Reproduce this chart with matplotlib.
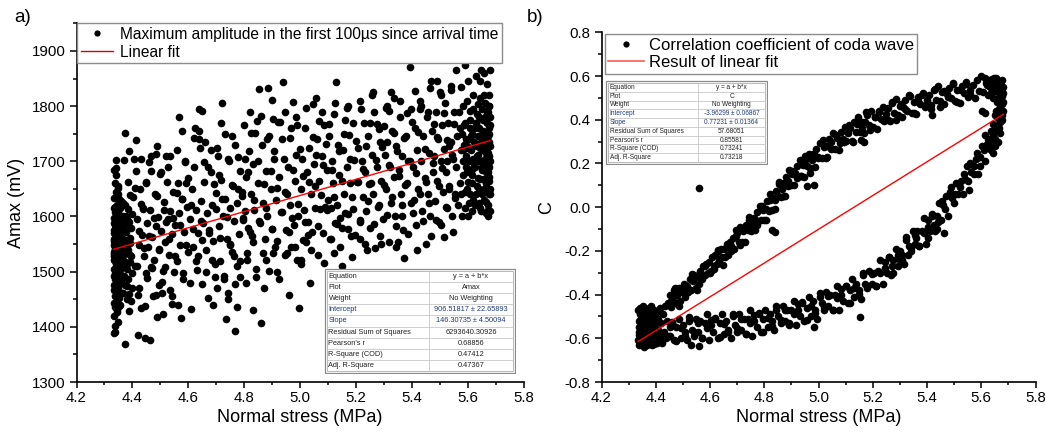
import numpy as np
import matplotlib.pyplot as plt
from matplotlib.lines import Line2D
from matplotlib.patches import Rectangle
from matplotlib.ticker import MultipleLocator

plt.rcParams['font.family'] = ['Liberation Sans', 'DejaVu Sans']

# ---- panel a): (normal stress MPa, Amax mV) ----
amax_low_col = [
    (4.335, 1588), (4.338, 1541), (4.341, 1502), (4.336, 1467), (4.344, 1620), (4.339, 1455), (4.347, 1573), (4.333, 1529), (4.342, 1491), (4.350, 1608),
    (4.337, 1436), (4.345, 1552), (4.334, 1598), (4.348, 1479), (4.340, 1517), (4.352, 1563), (4.336, 1419), (4.343, 1645), (4.355, 1534), (4.339, 1584),
    (4.346, 1448), (4.333, 1505), (4.358, 1597), (4.341, 1472), (4.349, 1526), (4.336, 1560), (4.353, 1489), (4.344, 1612), (4.338, 1401), (4.360, 1546),
    (4.335, 1634), (4.347, 1515), (4.342, 1578), (4.356, 1462), (4.334, 1493), (4.351, 1631), (4.339, 1540), (4.345, 1426), (4.362, 1571), (4.337, 1660),
    (4.348, 1500), (4.340, 1557), (4.357, 1538), (4.333, 1444), (4.346, 1592), (4.354, 1480), (4.338, 1521), (4.343, 1675), (4.365, 1510), (4.336, 1575),
    (4.350, 1459), (4.341, 1602), (4.359, 1628), (4.334, 1532), (4.347, 1409), (4.352, 1585), (4.339, 1468), (4.344, 1547), (4.363, 1555), (4.337, 1497),
    (4.349, 1640), (4.342, 1513), (4.356, 1440), (4.335, 1616), (4.346, 1566), (4.361, 1485), (4.338, 1390), (4.353, 1524), (4.343, 1688), (4.367, 1595),
    (4.336, 1548), (4.351, 1453), (4.340, 1581), (4.358, 1507), (4.334, 1475), (4.348, 1652), (4.364, 1542), (4.345, 1430), (4.339, 1609), (4.355, 1568),
    (4.370, 1520), (4.372, 1369), (4.368, 1461), (4.375, 1586), (4.371, 1703), (4.377, 1534), (4.369, 1493), (4.374, 1620), (4.380, 1451), (4.376, 1558),
    (4.373, 1751), (4.382, 1505), (4.378, 1572), (4.385, 1613), (4.379, 1474), (4.384, 1540), (4.388, 1428), (4.381, 1596), (4.386, 1663), (4.390, 1517),
    (4.383, 1487), (4.392, 1561), (4.387, 1719), (4.394, 1446), (4.389, 1590), (4.396, 1528), (4.391, 1639), (4.398, 1470), (4.393, 1552), (4.399, 1604),
    (4.336, 1685), (4.341, 1702), (4.335, 1388), (4.347, 1655), (4.333, 1570), (4.344, 1478), (4.340, 1525), (4.352, 1600), (4.338, 1545), (4.357, 1495),
    (4.334, 1556), (4.337, 1486), (4.340, 1594), (4.343, 1530), (4.346, 1610), (4.349, 1470), (4.352, 1542), (4.355, 1505), (4.358, 1580), (4.361, 1520),
    (4.364, 1462), (4.367, 1560), (4.335, 1522), (4.338, 1618), (4.341, 1445), (4.344, 1566), (4.347, 1489), (4.350, 1588), (4.353, 1438), (4.356, 1615),
    (4.359, 1550), (4.362, 1490), (4.365, 1625), (4.368, 1530), (4.371, 1577), (4.374, 1475), (4.377, 1600), (4.380, 1545), (4.383, 1515), (4.386, 1592),
    (4.389, 1460), (4.392, 1530), (4.395, 1580), (4.398, 1497), (4.336, 1535), (4.342, 1560), (4.348, 1542), (4.354, 1580), (4.360, 1512), (4.366, 1600),
]
amax_mid_low = [
    (4.405, 1705), (4.412, 1738), (4.430, 1704), (4.487, 1727), (4.520, 1709), (4.484, 1713), (4.560, 1720), (4.444, 1438), (4.487, 1418), (4.510, 1424),
    (4.534, 1467), (4.494, 1476), (4.420, 1385), (4.446, 1380), (4.462, 1376), (4.566, 1780), (4.577, 1755), (4.408, 1652), (4.415, 1596), (4.422, 1548),
    (4.418, 1510), (4.425, 1470), (4.431, 1623), (4.436, 1567), (4.441, 1529), (4.447, 1661), (4.452, 1588), (4.449, 1497), (4.457, 1545), (4.463, 1612),
    (4.468, 1683), (4.471, 1563), (4.476, 1521), (4.480, 1640), (4.473, 1455), (4.490, 1599), (4.494, 1541), (4.499, 1677), (4.503, 1574), (4.508, 1502),
    (4.512, 1626), (4.517, 1553), (4.521, 1590), (4.526, 1690), (4.530, 1530), (4.536, 1610), (4.541, 1568), (4.545, 1645), (4.549, 1499), (4.554, 1584),
    (4.558, 1520), (4.562, 1660), (4.567, 1606), (4.571, 1549), (4.576, 1632), (4.581, 1487), (4.585, 1572), (4.589, 1700), (4.594, 1617), (4.598, 1535),
    (4.427, 1650), (4.439, 1613), (4.458, 1698), (4.466, 1508), (4.483, 1583), (4.505, 1461), (4.528, 1595), (4.543, 1442), (4.575, 1416), (4.592, 1660),
    (4.640, 1795), (4.650, 1791), (4.720, 1805), (4.610, 1433), (4.767, 1393), (4.742, 1462), (4.744, 1450), (4.695, 1513), (4.697, 1491), (4.640, 1740),
    (4.643, 1725), (4.703, 1725), (4.706, 1709), (4.757, 1745), (4.605, 1595), (4.612, 1650), (4.618, 1545), (4.622, 1690), (4.627, 1612), (4.631, 1503),
    (4.636, 1570), (4.645, 1628), (4.649, 1478), (4.654, 1588), (4.658, 1662), (4.663, 1540), (4.667, 1607), (4.672, 1452), (4.676, 1575), (4.681, 1680),
    (4.685, 1620), (4.690, 1556), (4.700, 1642), (4.710, 1583), (4.714, 1520), (4.719, 1667), (4.724, 1600), (4.728, 1486), (4.733, 1632), (4.737, 1560),
    (4.746, 1700), (4.751, 1615), (4.755, 1535), (4.760, 1655), (4.764, 1592), (4.769, 1478), (4.773, 1625), (4.778, 1707), (4.782, 1568), (4.787, 1520),
    (4.791, 1645), (4.795, 1598), (4.799, 1765), (4.625, 1760), (4.660, 1735), (4.688, 1440), (4.716, 1770), (4.735, 1415), (4.748, 1548), (4.784, 1683),
]
amax_mid_high = [
    (4.940, 1844), (4.886, 1833), (4.853, 1831), (4.860, 1407), (4.775, 1436), (4.830, 1431), (4.960, 1458), (4.997, 1434), (4.821, 1789), (4.846, 1773),
    (4.904, 1776), (4.922, 1771), (4.975, 1807), (4.810, 1534), (4.812, 1522), (4.880, 1522), (4.904, 1534), (4.954, 1534), (4.990, 1522), (4.803, 1610),
    (4.807, 1672), (4.815, 1580), (4.819, 1718), (4.824, 1640), (4.828, 1565), (4.833, 1695), (4.837, 1612), (4.842, 1490), (4.849, 1660), (4.856, 1588),
    (4.863, 1730), (4.868, 1625), (4.873, 1560), (4.877, 1682), (4.883, 1601), (4.890, 1745), (4.895, 1650), (4.899, 1578), (4.908, 1705), (4.913, 1630),
    (4.917, 1555), (4.926, 1672), (4.931, 1608), (4.936, 1740), (4.945, 1645), (4.950, 1575), (4.958, 1690), (4.964, 1620), (4.969, 1760), (4.978, 1585),
    (4.983, 1665), (4.987, 1712), (4.993, 1600), (4.870, 1470), (4.918, 1500), (4.948, 1790), (4.898, 1812), (4.840, 1752), (4.966, 1545), (4.985, 1780),
    (5.130, 1844), (5.058, 1815), (5.047, 1804), (5.120, 1534), (5.065, 1530), (5.187, 1527), (5.073, 1613), (5.090, 1618), (5.126, 1589), (5.144, 1598),
    (5.190, 1613), (5.003, 1522), (5.010, 1558), (5.020, 1553), (5.005, 1650), (5.008, 1705), (5.014, 1612), (5.018, 1760), (5.024, 1680), (5.029, 1590),
    (5.033, 1725), (5.038, 1640), (5.042, 1572), (5.051, 1695), (5.055, 1655), (5.061, 1740), (5.069, 1665), (5.078, 1710), (5.082, 1570), (5.086, 1765),
    (5.095, 1685), (5.100, 1630), (5.104, 1745), (5.109, 1560), (5.113, 1700), (5.117, 1660), (5.122, 1785), (5.131, 1620), (5.136, 1730), (5.140, 1675),
    (5.149, 1580), (5.153, 1720), (5.158, 1640), (5.162, 1775), (5.167, 1690), (5.171, 1605), (5.176, 1748), (5.180, 1660), (5.184, 1565), (5.195, 1702),
    (5.035, 1480), (5.080, 1790), (5.150, 1510), (5.172, 1800), (5.110, 1615),
]
amax_upper = [
    (5.392, 1871), (5.216, 1809), (5.374, 1524), (5.270, 1543), (5.317, 1554), (5.349, 1554), (5.313, 1800), (5.317, 1791), (5.396, 1795), (5.277, 1767),
    (5.300, 1764), (5.204, 1662), (5.208, 1725), (5.213, 1590), (5.221, 1700), (5.225, 1635), (5.229, 1770), (5.234, 1680), (5.238, 1610), (5.243, 1745),
    (5.247, 1658), (5.252, 1580), (5.256, 1712), (5.261, 1640), (5.265, 1790), (5.274, 1690), (5.282, 1620), (5.287, 1735), (5.291, 1665), (5.296, 1595),
    (5.304, 1712), (5.309, 1650), (5.322, 1690), (5.326, 1625), (5.331, 1755), (5.335, 1672), (5.340, 1600), (5.344, 1728), (5.353, 1685), (5.357, 1780),
    (5.362, 1640), (5.366, 1710), (5.370, 1575), (5.379, 1745), (5.383, 1660), (5.387, 1700), (5.398, 1625), (5.240, 1540), (5.285, 1565), (5.338, 1815),
    (5.258, 1820), (5.365, 1600), (5.215, 1560), (5.345, 1545), (5.310, 1735),
    (5.464, 1833), (5.500, 1825), (5.450, 1551), (5.514, 1563), (5.546, 1571), (5.514, 1722), (5.532, 1727), (5.478, 1709), (5.403, 1690), (5.407, 1630),
    (5.411, 1760), (5.415, 1585), (5.420, 1720), (5.424, 1650), (5.428, 1795), (5.433, 1700), (5.437, 1610), (5.441, 1745), (5.446, 1670), (5.454, 1780),
    (5.458, 1640), (5.462, 1715), (5.467, 1600), (5.471, 1755), (5.475, 1680), (5.482, 1628), (5.486, 1790), (5.490, 1665), (5.494, 1740), (5.498, 1590),
    (5.503, 1700), (5.507, 1765), (5.511, 1645), (5.518, 1805), (5.522, 1680), (5.526, 1615), (5.530, 1770), (5.535, 1655), (5.539, 1735), (5.543, 1600),
    (5.548, 1705), (5.552, 1790), (5.555, 1640), (5.420, 1540), (5.470, 1565), (5.505, 1585), (5.430, 1810), (5.540, 1830), (5.490, 1845), (5.525, 1700),
]
amax_fill = [
    (4.402, 1636), (4.408, 1511), (4.414, 1682), (4.419, 1458), (4.425, 1574), (4.431, 1435), (4.437, 1616), (4.443, 1542), (4.448, 1662), (4.454, 1488),
    (4.460, 1564), (4.466, 1710), (4.472, 1506), (4.477, 1597), (4.483, 1457), (4.489, 1638), (4.495, 1539), (4.501, 1680), (4.506, 1481), (4.512, 1612),
    (4.518, 1508), (4.524, 1663), (4.530, 1559), (4.535, 1710), (4.541, 1456), (4.547, 1597), (4.553, 1528), (4.559, 1643), (4.564, 1439), (4.570, 1585),
    (4.576, 1631), (4.582, 1497), (4.588, 1698), (4.593, 1548), (4.599, 1669), (4.605, 1480), (4.611, 1621), (4.617, 1577), (4.622, 1743), (4.628, 1519),
    (4.634, 1529), (4.640, 1755), (4.646, 1591), (4.651, 1557), (4.657, 1698), (4.663, 1499), (4.669, 1689), (4.675, 1570), (4.680, 1721), (4.686, 1522),
    (4.692, 1658), (4.698, 1614), (4.704, 1470), (4.709, 1675), (4.715, 1561), (4.721, 1632), (4.727, 1493), (4.733, 1749), (4.738, 1599), (4.744, 1705),
    (4.750, 1551), (4.756, 1657), (4.762, 1528), (4.767, 1729), (4.773, 1510), (4.779, 1650), (4.785, 1491), (4.791, 1637), (4.796, 1593), (4.802, 1704),
    (4.808, 1480), (4.814, 1681), (4.820, 1571), (4.825, 1752), (4.831, 1553), (4.837, 1629), (4.843, 1505), (4.849, 1701), (4.854, 1591), (4.860, 1782),
    (4.866, 1533), (4.872, 1659), (4.878, 1615), (4.883, 1741), (4.889, 1502), (4.895, 1682), (4.901, 1578), (4.907, 1719), (4.912, 1545), (4.918, 1651),
    (4.924, 1487), (4.930, 1772), (4.936, 1608), (4.941, 1704), (4.947, 1530), (4.953, 1641), (4.959, 1572), (4.965, 1743), (4.970, 1598), (4.976, 1684),
    (4.982, 1545), (4.988, 1766), (4.994, 1622), (4.999, 1722), (5.005, 1513), (5.011, 1674), (5.017, 1590), (5.023, 1796), (5.028, 1567), (5.034, 1663),
    (5.040, 1539), (5.046, 1744), (5.052, 1615), (5.057, 1711), (5.063, 1582), (5.069, 1773), (5.075, 1639), (5.081, 1694), (5.086, 1515), (5.092, 1731),
    (5.098, 1612), (5.104, 1768), (5.110, 1559), (5.115, 1684), (5.121, 1635), (5.127, 1806), (5.133, 1587), (5.139, 1718), (5.144, 1544), (5.150, 1664),
    (5.156, 1750), (5.162, 1606), (5.168, 1797), (5.173, 1578), (5.179, 1704), (5.185, 1635), (5.191, 1770), (5.197, 1566), (5.202, 1737), (5.208, 1663),
    (5.214, 1594), (5.220, 1795), (5.226, 1686), (5.231, 1551), (5.237, 1727), (5.243, 1628), (5.249, 1769), (5.255, 1660), (5.260, 1826), (5.266, 1586),
    (5.272, 1702), (5.278, 1618), (5.284, 1759), (5.289, 1550), (5.295, 1726), (5.301, 1657), (5.307, 1797), (5.313, 1603), (5.318, 1694), (5.324, 1825),
    (5.330, 1636), (5.336, 1752), (5.342, 1582), (5.347, 1718), (5.353, 1674), (5.359, 1810), (5.365, 1621), (5.371, 1742), (5.376, 1657), (5.382, 1788),
    (5.388, 1569), (5.394, 1700), (5.400, 1771), (5.405, 1607), (5.411, 1827), (5.417, 1678), (5.423, 1754), (5.429, 1640), (5.434, 1801), (5.440, 1592),
    (5.446, 1722), (5.452, 1663), (5.458, 1789), (5.463, 1625), (5.469, 1846), (5.475, 1697), (5.481, 1768), (5.487, 1593), (5.492, 1744), (5.498, 1655),
    (5.504, 1821), (5.510, 1687), (5.516, 1788), (5.521, 1618), (5.527, 1739), (5.533, 1650), (5.539, 1836), (5.545, 1712), (5.550, 1768), (5.556, 1634),
]
amax_high_col = [
    (5.590, 1875), (5.557, 1865), (5.647, 1865), (5.680, 1865), (5.560, 1690), (5.563, 1745), (5.566, 1620), (5.569, 1790), (5.572, 1660), (5.575, 1720),
    (5.578, 1835), (5.581, 1600), (5.584, 1700), (5.587, 1765), (5.590, 1645), (5.593, 1740), (5.596, 1810), (5.599, 1680), (5.602, 1725), (5.605, 1625),
    (5.608, 1775), (5.611, 1700), (5.614, 1660), (5.617, 1750), (5.620, 1820), (5.623, 1690), (5.626, 1730), (5.629, 1640), (5.632, 1785), (5.635, 1710),
    (5.638, 1670), (5.641, 1760), (5.644, 1615), (5.647, 1735), (5.650, 1795), (5.653, 1685), (5.656, 1745), (5.659, 1650), (5.662, 1705), (5.665, 1607),
    (5.668, 1770), (5.671, 1725), (5.674, 1680), (5.677, 1750), (5.680, 1700), (5.679, 1640), (5.676, 1800), (5.673, 1620), (5.670, 1840), (5.667, 1660),
    (5.664, 1715), (5.661, 1780), (5.658, 1630), (5.655, 1755), (5.652, 1690), (5.649, 1610), (5.646, 1725), (5.643, 1815), (5.640, 1700), (5.637, 1745),
    (5.634, 1655), (5.631, 1770), (5.628, 1690), (5.625, 1620), (5.622, 1735), (5.619, 1795), (5.616, 1675), (5.613, 1720), (5.610, 1640), (5.607, 1760),
    (5.604, 1700), (5.601, 1845), (5.598, 1650), (5.595, 1710), (5.592, 1770), (5.589, 1615), (5.586, 1730), (5.583, 1675), (5.580, 1750), (5.577, 1640),
    (5.678, 1735), (5.675, 1760), (5.672, 1695), (5.669, 1650), (5.666, 1730), (5.663, 1805), (5.660, 1740), (5.657, 1700), (5.654, 1775), (5.651, 1720),
    (5.680, 1780), (5.679, 1610), (5.678, 1665), (5.677, 1820), (5.676, 1710), (5.675, 1640), (5.674, 1745), (5.673, 1790), (5.672, 1600), (5.671, 1670),
    (5.645, 1845), (5.630, 1855), (5.615, 1610), (5.600, 1600), (5.585, 1800), (5.660, 1860), (5.640, 1625), (5.625, 1700), (5.665, 1680), (5.650, 1750),
    (5.598, 1728), (5.603, 1662), (5.609, 1792), (5.612, 1745), (5.618, 1688), (5.621, 1630), (5.627, 1760), (5.633, 1727), (5.636, 1803), (5.639, 1650),
    (5.642, 1780), (5.648, 1700), (5.651, 1640), (5.657, 1820), (5.660, 1668), (5.663, 1752), (5.666, 1626), (5.669, 1790), (5.672, 1715), (5.675, 1672),
    (5.678, 1800), (5.680, 1728), (5.680, 1650), (5.679, 1765), (5.677, 1690), (5.674, 1612), (5.671, 1748), (5.668, 1705), (5.664, 1660), (5.659, 1775),
    (5.654, 1735), (5.646, 1668), (5.638, 1712), (5.629, 1770), (5.621, 1705), (5.612, 1680), (5.606, 1740), (5.594, 1690), (5.582, 1720), (5.571, 1760),
]
amax_fit = (906.51817, 146.30735)
amax_table = [
    ("Equation", "y = a + b*x"), ("Plot", "Amax"), ("Weight", "No Weighting"),
    ("Intercept", "906.51817 \u00b1 22.65893"), ("Slope", "146.30735 \u00b1 4.50094"),
    ("Residual Sum of Squares", "6293640.30926"), ("Pearson's r", "0.68856"),
    ("R-Square (COD)", "0.47412"), ("Adj. R-Square", "0.47367"),
]

# ---- panel b): (normal stress MPa, correlation coefficient C) ----
coda_cluster = [
    (4.335, -0.47), (4.337, -0.52), (4.339, -0.57), (4.336, -0.61), (4.341, -0.49), (4.338, -0.55), (4.343, -0.59), (4.340, -0.63), (4.345, -0.51), (4.342, -0.46),
    (4.347, -0.54), (4.344, -0.58), (4.349, -0.62), (4.346, -0.48), (4.351, -0.53), (4.348, -0.60), (4.353, -0.56), (4.350, -0.50), (4.355, -0.64), (4.352, -0.45),
    (4.357, -0.57), (4.354, -0.52), (4.359, -0.61), (4.356, -0.49), (4.361, -0.55), (4.358, -0.59), (4.363, -0.47), (4.360, -0.53), (4.365, -0.62), (4.362, -0.56),
    (4.367, -0.50), (4.364, -0.58), (4.369, -0.54), (4.366, -0.60), (4.371, -0.48), (4.368, -0.63), (4.373, -0.52), (4.370, -0.57), (4.375, -0.46), (4.372, -0.61),
    (4.377, -0.55), (4.374, -0.50), (4.379, -0.59), (4.376, -0.53), (4.381, -0.62), (4.378, -0.48), (4.383, -0.56), (4.380, -0.51), (4.385, -0.60), (4.382, -0.45),
    (4.387, -0.54), (4.384, -0.58), (4.389, -0.49), (4.386, -0.63), (4.391, -0.52), (4.388, -0.57), (4.393, -0.47), (4.390, -0.61), (4.395, -0.55), (4.392, -0.50),
    (4.398, -0.59), (4.400, -0.53), (4.403, -0.62), (4.405, -0.48), (4.408, -0.56), (4.410, -0.51), (4.413, -0.60), (4.415, -0.46), (4.418, -0.58), (4.420, -0.53),
    (4.424, -0.62), (4.427, -0.49), (4.430, -0.57), (4.434, -0.45), (4.437, -0.60), (4.441, -0.52), (4.445, -0.44), (4.448, -0.59), (4.452, -0.55), (4.456, -0.43),
    (4.338, -0.585), (4.344, -0.505), (4.350, -0.565), (4.356, -0.615), (4.362, -0.505), (4.368, -0.545), (4.374, -0.595), (4.380, -0.565), (4.386, -0.515), (4.392, -0.625),
]
coda_upper = [
    (4.452, -0.40), (4.458, -0.45), (4.463, -0.41), (4.469, -0.38), (4.474, -0.44), (4.480, -0.40), (4.486, -0.37), (4.491, -0.43), (4.497, -0.39), (4.503, -0.35),
    (4.508, -0.41), (4.514, -0.36), (4.519, -0.39), (4.525, -0.33), (4.530, -0.38), (4.536, -0.34), (4.541, -0.31), (4.547, -0.37), (4.552, -0.32), (4.558, -0.35),
    (4.563, -0.29), (4.569, -0.33), (4.574, -0.27), (4.580, -0.31), (4.585, -0.26), (4.591, -0.30), (4.596, -0.25), (4.602, -0.29), (4.607, -0.23), (4.613, -0.27),
    (4.618, -0.22), (4.624, -0.26), (4.629, -0.20), (4.635, -0.24), (4.640, -0.19), (4.646, -0.23), (4.651, -0.19), (4.657, -0.23), (4.662, -0.18), (4.668, -0.22),
    (4.673, -0.16), (4.679, -0.20), (4.684, -0.14), (4.690, -0.19), (4.695, -0.13), (4.701, -0.12), (4.706, -0.16), (4.712, -0.09), (4.717, -0.16), (4.723, -0.11),
    (4.728, -0.16), (4.734, -0.08), (4.739, -0.105), (4.745, -0.047), (4.750, -0.11), (4.756, -0.074), (4.761, -0.048), (4.767, -0.106), (4.772, -0.021), (4.778, -0.065),
    (4.783, 0.006), (4.789, -0.061), (4.794, -0.014), (4.800, -0.06), (4.805, -0.008), (4.811, 0.026), (4.816, -0.017), (4.822, 0.058), (4.827, -0.013), (4.833, 0.043),
    (4.838, -0.009), (4.844, 0.076), (4.849, 0.049), (4.855, 0.107), (4.860, 0.045), (4.866, 0.082), (4.871, 0.109), (4.877, 0.051), (4.882, 0.137), (4.888, 0.097),
    (4.893, 0.17), (4.899, 0.103), (4.904, 0.15), (4.910, 0.103), (4.915, 0.154), (4.921, 0.186), (4.926, 0.143), (4.932, 0.215), (4.937, 0.141), (4.943, 0.193),
    (4.948, 0.14), (4.954, 0.219), (4.959, 0.189), (4.965, 0.245), (4.970, 0.18), (4.976, 0.216), (4.981, 0.241), (4.987, 0.182), (4.992, 0.267), (4.998, 0.223),
    (5.005, 0.295), (5.012, 0.227), (5.019, 0.274), (5.026, 0.226), (5.033, 0.278), (5.040, 0.31), (5.047, 0.267), (5.054, 0.339), (5.061, 0.265), (5.068, 0.316),
    (5.075, 0.261), (5.082, 0.342), (5.089, 0.312), (5.096, 0.367), (5.103, 0.302), (5.110, 0.337), (5.117, 0.363), (5.124, 0.303), (5.131, 0.388), (5.138, 0.343),
    (5.145, 0.414), (5.152, 0.344), (5.159, 0.389), (5.166, 0.34), (5.173, 0.39), (5.180, 0.42), (5.187, 0.374), (5.194, 0.442), (5.201, 0.365), (5.208, 0.414),
    (5.215, 0.357), (5.222, 0.436), (5.229, 0.404), (5.236, 0.458), (5.243, 0.392), (5.250, 0.427), (5.257, 0.452), (5.264, 0.392), (5.271, 0.476), (5.278, 0.429),
    (5.285, 0.496), (5.292, 0.423), (5.299, 0.465), (5.306, 0.412), (5.313, 0.46), (5.320, 0.488), (5.328, 0.441), (5.336, 0.509), (5.344, 0.433), (5.352, 0.481),
    (5.360, 0.424), (5.368, 0.502), (5.376, 0.47), (5.384, 0.524), (5.392, 0.457), (5.400, 0.49), (5.408, 0.513), (5.416, 0.451), (5.424, 0.535), (5.432, 0.488),
    (5.440, 0.556), (5.448, 0.484), (5.456, 0.526), (5.464, 0.473), (5.472, 0.519), (5.480, 0.546), (5.488, 0.498), (5.496, 0.564), (5.504, 0.486), (5.512, 0.534),
    (5.520, 0.476), (5.528, 0.553), (5.536, 0.521), (5.544, 0.573), (5.552, 0.506), (5.560, 0.538), (5.568, 0.561), (5.576, 0.498), (5.584, 0.581), (5.592, 0.533),
    (5.600, 0.60), (5.608, 0.527), (5.616, 0.568), (5.624, 0.515), (5.632, 0.562), (5.640, 0.588), (5.648, 0.54), (5.656, 0.59), (5.664, 0.525),
    (4.455, -0.455), (4.471, -0.37), (4.487, -0.45), (4.503, -0.37), (4.519, -0.38), (4.535, -0.305), (4.551, -0.38), (4.567, -0.31), (4.583, -0.27), (4.599, -0.30),
    (4.615, -0.285), (4.631, -0.195), (4.647, -0.265), (4.663, -0.17), (4.679, -0.18), (4.695, -0.105), (4.711, -0.174), (4.727, -0.10), (4.743, -0.06), (4.759, -0.09),
    (4.775, -0.083), (4.791, 0.006), (4.807, -0.06), (4.823, 0.035), (4.839, 0.033), (4.855, 0.117), (4.871, 0.049), (4.887, 0.12), (4.903, 0.164), (4.919, 0.134),
    (4.935, 0.144), (4.951, 0.232), (4.967, 0.157), (4.983, 0.243), (4.999, 0.229), (5.015, 0.305), (5.031, 0.231), (5.047, 0.297), (5.063, 0.332), (5.079, 0.294),
    (5.095, 0.296), (5.111, 0.378), (5.127, 0.30), (5.143, 0.382), (5.159, 0.364), (5.175, 0.436), (5.191, 0.355), (5.207, 0.413), (5.223, 0.441), (5.239, 0.399),
    (5.255, 0.40), (5.271, 0.481), (5.287, 0.397), (5.303, 0.471), (5.319, 0.448), (5.335, 0.514), (5.351, 0.43), (5.367, 0.487), (5.383, 0.513), (5.399, 0.47),
    (5.415, 0.466), (5.431, 0.542), (5.447, 0.459), (5.463, 0.533), (5.479, 0.506), (5.495, 0.569), (5.511, 0.483), (5.527, 0.538), (5.543, 0.563), (5.559, 0.518),
]
coda_lower = [
    (4.452, -0.59), (4.460, -0.53), (4.468, -0.61), (4.476, -0.55), (4.484, -0.51), (4.492, -0.60), (4.500, -0.54), (4.508, -0.57), (4.516, -0.61), (4.524, -0.52),
    (4.532, -0.56), (4.540, -0.59), (4.548, -0.51), (4.556, -0.57), (4.564, -0.52), (4.572, -0.60), (4.580, -0.53), (4.588, -0.49), (4.596, -0.61), (4.604, -0.54),
    (4.612, -0.57), (4.620, -0.51), (4.628, -0.60), (4.636, -0.53), (4.644, -0.49), (4.652, -0.58), (4.660, -0.52), (4.668, -0.56), (4.676, -0.60), (4.684, -0.50),
    (4.692, -0.54), (4.700, -0.57), (4.708, -0.49), (4.716, -0.56), (4.724, -0.51), (4.732, -0.58), (4.740, -0.51), (4.748, -0.47), (4.756, -0.59), (4.764, -0.52),
    (4.772, -0.55), (4.780, -0.49), (4.788, -0.57), (4.796, -0.51), (4.804, -0.47), (4.812, -0.55), (4.820, -0.49), (4.828, -0.52), (4.836, -0.56), (4.844, -0.47),
    (4.852, -0.50), (4.860, -0.53), (4.868, -0.45), (4.876, -0.52), (4.884, -0.47), (4.892, -0.53), (4.900, -0.47), (4.908, -0.43), (4.916, -0.54), (4.924, -0.47),
    (4.932, -0.50), (4.940, -0.44), (4.948, -0.52), (4.956, -0.46), (4.964, -0.41), (4.972, -0.50), (4.980, -0.43), (4.988, -0.47), (4.996, -0.51), (5.004, -0.41),
    (5.012, -0.44), (5.020, -0.47), (5.028, -0.39), (5.036, -0.45), (5.044, -0.40), (5.052, -0.47), (5.060, -0.40), (5.068, -0.36), (5.076, -0.47), (5.084, -0.40),
    (5.092, -0.43), (5.100, -0.36), (5.108, -0.44), (5.116, -0.38), (5.124, -0.33), (5.132, -0.41), (5.140, -0.35), (5.148, -0.38), (5.156, -0.42), (5.164, -0.31),
    (5.172, -0.35), (5.180, -0.37), (5.188, -0.29), (5.196, -0.35), (5.204, -0.30), (5.212, -0.36), (5.220, -0.29), (5.228, -0.24), (5.236, -0.35), (5.244, -0.28),
    (5.252, -0.30), (5.260, -0.23), (5.268, -0.31), (5.276, -0.24), (5.284, -0.19), (5.292, -0.27), (5.300, -0.20), (5.308, -0.22), (5.316, -0.26), (5.324, -0.15),
    (5.332, -0.18), (5.340, -0.20), (5.348, -0.11), (5.356, -0.17), (5.364, -0.11), (5.372, -0.18), (5.380, -0.11), (5.388, -0.05), (5.396, -0.17), (5.404, -0.09),
    (5.412, -0.11), (5.420, -0.04), (5.428, -0.11), (5.436, -0.04), (5.444, 0.02), (5.452, -0.06), (5.460, 0.01), (5.468, -0.01), (5.476, -0.04), (5.484, 0.07),
    (5.492, 0.04), (5.500, 0.02), (5.508, 0.11), (5.516, 0.06), (5.524, 0.12), (5.532, 0.06), (5.540, 0.13), (5.548, 0.19), (5.556, 0.08), (5.564, 0.16),
    (5.572, 0.15), (5.580, 0.22), (5.588, 0.15), (5.596, 0.23), (5.604, 0.28), (5.612, 0.21), (5.620, 0.29), (5.628, 0.27), (5.636, 0.26), (5.644, 0.38),
    (5.652, 0.37), (5.660, 0.35), (5.668, 0.46), (5.676, 0.42), (5.680, 0.48),
    (5.455, 0.03), (5.470, 0.05), (5.490, 0.09), (5.505, 0.06), (5.520, 0.09), (5.535, 0.15), (5.550, 0.12), (5.560, 0.20), (5.575, 0.19), (5.585, 0.25),
    (5.595, 0.19), (5.610, 0.26), (5.615, 0.33), (5.625, 0.31), (5.635, 0.35), (5.640, 0.30), (5.650, 0.42), (5.405, -0.14), (5.425, -0.08), (5.440, -0.07),
    (5.390, -0.12), (5.360, -0.14), (5.330, -0.22), (5.300, -0.24), (5.270, -0.27),
    (4.460, -0.524), (4.476, -0.612), (4.492, -0.551), (4.508, -0.589), (4.524, -0.503), (4.540, -0.571), (4.556, -0.529), (4.572, -0.598), (4.588, -0.551), (4.604, -0.515),
    (4.620, -0.508), (4.636, -0.596), (4.652, -0.535), (4.668, -0.573), (4.684, -0.487), (4.700, -0.555), (4.716, -0.512), (4.732, -0.579), (4.748, -0.53), (4.764, -0.492),
    (4.780, -0.484), (4.796, -0.571), (4.812, -0.506), (4.828, -0.542), (4.844, -0.452), (4.860, -0.517), (4.876, -0.472), (4.892, -0.537), (4.908, -0.487), (4.924, -0.445),
    (4.940, -0.434), (4.956, -0.518), (4.972, -0.451), (4.988, -0.485), (5.004, -0.393), (5.020, -0.455), (5.036, -0.407), (5.052, -0.469), (5.068, -0.416), (5.084, -0.373),
    (5.100, -0.36), (5.116, -0.439), (5.132, -0.368), (5.148, -0.396), (5.164, -0.30), (5.180, -0.359), (5.196, -0.308), (5.212, -0.363), (5.228, -0.302), (5.244, -0.251),
    (5.260, -0.228), (5.276, -0.299), (5.292, -0.22), (5.308, -0.24), (5.324, -0.136), (5.340, -0.187), (5.356, -0.128), (5.372, -0.179), (5.388, -0.114), (5.404, -0.059),
    (5.420, -0.032), (5.436, -0.10),
]
coda_right_end = [
    (5.655, 0.44), (5.662, 0.50), (5.668, 0.53), (5.672, 0.56), (5.676, 0.51), (5.680, 0.55), (5.678, 0.47), (5.674, 0.43), (5.670, 0.39), (5.665, 0.36),
    (5.660, 0.41), (5.650, 0.31), (5.645, 0.33), (5.657, 0.48), (5.663, 0.57), (5.667, 0.45), (5.671, 0.49), (5.675, 0.58), (5.679, 0.52), (5.681, 0.44),
    (5.640, 0.57), (5.632, 0.55), (5.648, 0.59), (5.653, 0.53), (5.658, 0.56), (5.644, 0.50), (5.636, 0.52), (5.628, 0.58), (5.620, 0.56), (5.612, 0.59),
    (5.669, 0.34), (5.677, 0.40), (5.652, 0.28), (5.660, 0.30), (5.642, 0.25),
]
coda_outliers = [
    (4.558, 0.087), (4.830, -0.105), (4.840, -0.115), (4.956, 0.096), (4.985, 0.10), (5.157, 0.306), (5.168, 0.297), (5.420, 0.42),
    (5.603, 0.44), (5.612, 0.43), (5.153, -0.503), (4.985, -0.548), (5.461, -0.12), (4.529, -0.631), (4.560, -0.635),
]
coda_fit = (-3.96299, 0.77231)
coda_table = [
    ("Equation", "y = a + b*x"), ("Plot", "C"), ("Weight", "No Weighting"),
    ("Intercept", "-3.96299 \u00b1 0.06867"), ("Slope", "0.77231 \u00b1 0.01364"),
    ("Residual Sum of Squares", "57.68051"), ("Pearson's r", "0.85581"),
    ("R-Square (COD)", "0.73241"), ("Adj. R-Square", "0.73218"),
]

W, H = 1046, 437
fig = plt.figure(figsize=(W / 100, H / 100), dpi=100)


def frac(x0, y0, x1, y1):
    # pixel box (top-left origin) -> figure fraction rect
    return [x0 / W, 1 - y1 / H, (x1 - x0) / W, (y1 - y0) / H]


def style_axes(ax, ymajor, yminor):
    for side in ['top', 'right']:
        ax.spines[side].set_visible(False)
    for side in ['left', 'bottom']:
        ax.spines[side].set_linewidth(1.2)
    ax.xaxis.set_major_locator(MultipleLocator(0.2))
    ax.xaxis.set_minor_locator(MultipleLocator(0.1))
    ax.yaxis.set_major_locator(MultipleLocator(ymajor))
    ax.yaxis.set_minor_locator(MultipleLocator(yminor))
    ax.tick_params(which='both', direction='out', labelsize=10.8, width=1.1)
    ax.tick_params(axis='x', which='major', length=4.0, pad=2.5)
    ax.tick_params(axis='x', which='minor', length=2.3)
    ax.tick_params(axis='y', which='major', length=5.0, pad=3.0)
    ax.tick_params(axis='y', which='minor', length=3.0)
    ax.xaxis.set_major_formatter(plt.FormatStrFormatter('%.1f'))


def draw_table(box, rows, split, fs):
    x0, y0, x1, y1 = box
    tax = fig.add_axes(frac(x0 - 3, y0 - 3, x1 + 3, y1 + 3))
    tax.set_xlim(x0 - 3, x1 + 3)
    tax.set_ylim(y1 + 3, y0 - 3)
    tax.axis('off')
    tax.add_patch(Rectangle((x0 - 2, y0 - 2), x1 - x0 + 4, y1 - y0 + 4, facecolor='white',
                            edgecolor='#8a8a8a', lw=0.9))
    tax.add_patch(Rectangle((x0, y0), x1 - x0, y1 - y0, facecolor='white', edgecolor='#b8b8b8', lw=0.7))
    rh = (y1 - y0) / len(rows)
    for i, (k, v) in enumerate(rows):
        yc = y0 + (i + 0.5) * rh
        if i > 0:
            tax.plot([x0, x1], [y0 + i * rh] * 2, color='#c8c8c8', lw=0.6)
        col = '#1f3a78' if k in ('Intercept', 'Slope') else '#222222'
        tax.text(x0 + 1.5, yc, k, fontsize=fs, va='center', ha='left', color=col)
        tax.text((split + x1) / 2, yc, v, fontsize=fs, va='center', ha='center', color=col)
    tax.plot([split, split], [y0, y1], color='#c8c8c8', lw=0.6)


ax1 = fig.add_axes(frac(76.5, 23.4, 523.5, 382))
ax2 = fig.add_axes(frac(601.5, 32.3, 1035.5, 382))

# panel a
amax_pts = np.array(amax_low_col + amax_mid_low + amax_fill + amax_mid_high + amax_upper + amax_high_col)
ax1.plot(amax_pts[:, 0], amax_pts[:, 1], 'o', ls='none', color='black', ms=5.5, mew=0)
xs = np.array([amax_pts[:, 0].min(), amax_pts[:, 0].max()])
ax1.plot(xs, amax_fit[0] + amax_fit[1] * xs, color='red', lw=1.0)
ax1.set_xlim(4.2, 5.8)
ax1.set_ylim(1300, 1950)
style_axes(ax1, 100, 50)
ax1.set_xlabel('Normal stress (MPa)', fontsize=13)
ax1.set_ylabel('Amax (mV)', fontsize=13)
ax1.xaxis.set_label_coords(0.5, -0.075)
ax1.yaxis.set_label_coords(-0.115, 0.5)
h1 = [Line2D([], [], marker='o', ls='none', color='black', ms=4.5, mew=0),
      Line2D([], [], color='#e00000', lw=1.0)]
leg1 = ax1.legend(h1, ['Maximum amplitude in the first 100\u00b5s since arrival time', 'Linear fit'],
                  loc='upper left', bbox_to_anchor=(0.002, 1.0), borderaxespad=0, fontsize=11.2,
                  fancybox=False, edgecolor='#8c8c8c', framealpha=1, handlelength=2.05,
                  handletextpad=0.45, borderpad=0.22, labelspacing=0.2)
leg1.get_frame().set_linewidth(1.0)

# panel b
coda_pts = np.array(coda_cluster + coda_upper + coda_lower + coda_right_end + coda_outliers)
ax2.plot(coda_pts[:, 0], coda_pts[:, 1], 'o', ls='none', color='black', ms=5.5, mew=0)
xs = np.array([coda_pts[:, 0].min(), coda_pts[:, 0].max()])
ax2.plot(xs, coda_fit[0] + coda_fit[1] * xs, color='red', lw=1.0)
ax2.set_xlim(4.2, 5.8)
ax2.set_ylim(-0.8, 0.8)
style_axes(ax2, 0.2, 0.1)
ax2.yaxis.set_major_formatter(plt.FormatStrFormatter('%.1f'))
ax2.set_xlabel('Normal stress (MPa)', fontsize=13)
ax2.set_ylabel('C', fontsize=13)
ax2.xaxis.set_label_coords(0.5, -0.078)
ax2.yaxis.set_label_coords(-0.107, 0.5)
h2 = [Line2D([], [], marker='o', ls='none', color='black', ms=4.5, mew=0),
      Line2D([], [], color='#ff5a5a', lw=1.2)]
leg2 = ax2.legend(h2, ['Correlation coefficient of coda wave', 'Result of linear fit'],
                  loc='upper left', bbox_to_anchor=(0.008, 0.994), borderaxespad=0, fontsize=12,
                  fancybox=False, edgecolor='#8c8c8c', framealpha=1, handlelength=2.15,
                  handletextpad=0.3, borderpad=0.2, labelspacing=0.15)
leg2.get_frame().set_linewidth(1.0)

draw_table((327, 271, 513, 371), amax_table, 429, 5.3)
draw_table((608, 83, 765, 162), coda_table, 698, 4.7)

fig.text(14 / W, 1 - 18 / H, 'a)', fontsize=13.5, va='center', ha='left')
fig.text(527 / W, 1 - 18 / H, 'b)', fontsize=13.5, va='center', ha='left')

fig.savefig('out.png', dpi=100)
